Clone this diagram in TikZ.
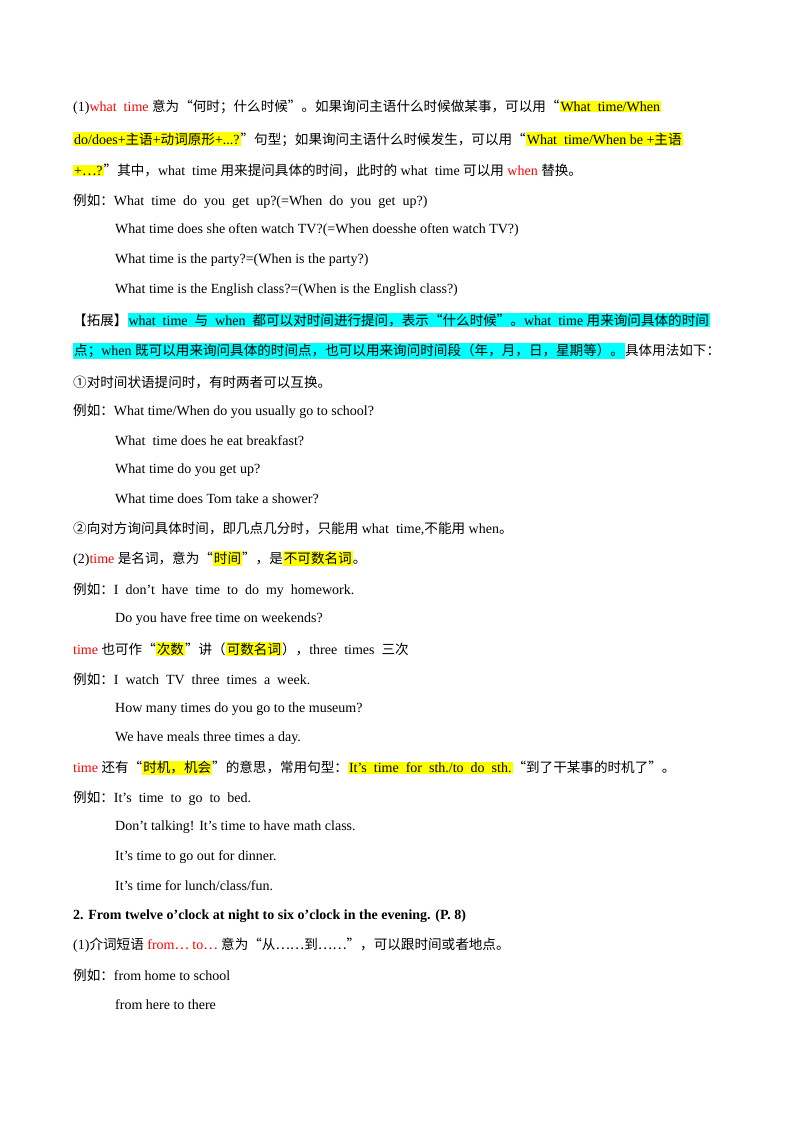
\documentclass[tikz,border=0pt]{standalone}
\usepackage{fontspec}
\setmainfont{Liberation Serif}
\newfontfamily\cjk[Scale=0.97]{Noto Sans CJK SC}
\XeTeXinterchartokenstate=1
\newXeTeXintercharclass\cjkcls
\count255="4E00
\loop \XeTeXcharclass\count255=\cjkcls \advance\count255 1 \ifnum\count255<"A000 \repeat
\count255="3000
\loop \XeTeXcharclass\count255=\cjkcls \advance\count255 1 \ifnum\count255<"3040 \repeat
\count255="FF00
\loop \XeTeXcharclass\count255=\cjkcls \advance\count255 1 \ifnum\count255<"FF60 \repeat
\XeTeXcharclass"201C=\cjkcls
\XeTeXcharclass"201D=\cjkcls
\XeTeXcharclass"2026=\cjkcls
\XeTeXcharclass"2460=\cjkcls
\XeTeXcharclass"2461=\cjkcls
\XeTeXinterchartoks 0 \cjkcls = {\begingroup\cjk}
\XeTeXinterchartoks 4095 \cjkcls = {\begingroup\cjk}
\XeTeXinterchartoks \cjkcls 0 = {\endgroup}
\XeTeXinterchartoks \cjkcls 4095 = {\endgroup}
\definecolor{hly}{RGB}{255,255,0}
\definecolor{hlc}{RGB}{0,255,255}
\newcommand\Y[1]{{\setlength\fboxsep{1pt}\colorbox{hly}{#1}}}
\newcommand\Cy[1]{{\setlength\fboxsep{1pt}\colorbox{hlc}{#1}}}
\newcommand\R[1]{\textcolor{red}{#1}}
\tikzset{ln/.style={anchor=west,inner sep=0pt,font=\fontsize{14}{16}\selectfont}}
\begin{document}
\begin{tikzpicture}[x=1pt,y=-1pt]
\useasboundingbox (0,0) rectangle (800,1132);
\fill[white] (0,0) rectangle (800,1132);
\node[ln] (l1) at (73,107) {(1)\R{what\ \ time} 意为“何时；什么时候”。如果询问主语什么时候做某事，可以用“\Y{What\ \ time/When}};
\node[ln] (l2) at (73,139) {\Y{do/does+主语+动词原形+...?}”句型；如果询问主语什么时候发生，可以用“\Y{What\ \ time/When be +主语}};
\node[ln] (l3) at (73,170) {\Y{+…?}”其中，what\ \ time 用来提问具体的时间，此时的 what\ \ time 可以用 \R{when} 替换。};
\node[ln] (l4) at (73,201) {例如：What\ \ time\ \ do\ \ you\ \ get\ \ up?(=When\ \ do\ \ you\ \ get\ \ up?)};
\node[ln] (l5) at (115,230) {What time does she often watch TV?(=When doesshe often watch TV?)};
\node[ln] (l6) at (115,260) {What time is the party?=(When is the party?)};
\node[ln] (l7) at (115,290) {What time is the English class?=(When is the English class?)};
\node[ln] (l8) at (73,320) {【拓展】\Cy{what\ \ time\ \ 与\ \ when\ \ 都可以对时间进行提问，表示“什么时候”。what\ \ time 用来询问具体的时间}};
\node[ln] (l9) at (73,351) {\Cy{点；when 既可以用来询问具体的时间点，也可以用来询问时间段（年，月，日，星期等）。}具体用法如下：};
\node[ln] (l10) at (73,382) {①对时间状语提问时，有时两者可以互换。};
\node[ln] (l11) at (73,411) {例如：What time/When do you usually go to school?};
\node[ln] (l12) at (115,441) {What\ \ time does he eat breakfast?};
\node[ln] (l13) at (115,470) {What time do you get up?};
\node[ln] (l14) at (115,499) {What time does Tom take a shower?};
\node[ln] (l15) at (73,529) {②向对方询问具体时间，即几点几分时，只能用 what\ \ time,不能用 when。};
\node[ln] (l16) at (73,559) {(2)\R{time} 是名词，意为“\Y{时间}”，是\Y{不可数名词}。};
\node[ln] (l17) at (73,590) {例如：I\ \ don’t\ \ have\ \ time\ \ to\ \ do\ \ my\ \ homework.};
\node[ln] (l18) at (115,619) {Do you have free time on weekends?};
\node[ln] (l19) at (73,649) {\R{time} 也可作“\Y{次数}”讲（\Y{可数名词}），three\ \ times\ \ 三次};
\node[ln] (l20) at (73,679) {例如：I\ \ watch\ \ TV\ \ three\ \ times\ \ a\ \ week.};
\node[ln] (l21) at (115,709) {How many times do you go to the museum?};
\node[ln] (l22) at (115,738) {We have meals three times a day.};
\node[ln] (l23) at (73,768) {\R{time} 还有“\Y{时机，机会}”的意思，常用句型：\Y{It’s\ \ time\ \ for\ \ sth./to\ \ do\ \ sth.}“到了干某事的时机了”。};
\node[ln] (l24) at (73,798) {例如：It’s\ \ time\ \ to\ \ go\ \ to\ \ bed.};
\node[ln] (l25) at (115,827) {Don’t talking! It’s time to have math class.};
\node[ln] (l26) at (115,857) {It’s time to go out for dinner.};
\node[ln] (l27) at (115,886) {It’s time for lunch/class/fun.};
\node[ln,font=\fontsize{14}{16}\selectfont\bfseries] (l28) at (73,916) {2. From twelve o’clock at night to six o’clock in the evening. (P. 8)};
\node[ln] (l29) at (73,945) {(1)介词短语 \R{from… to…} 意为“从……到……”，可以跟时间或者地点。};
\node[ln] (l30) at (73,975) {例如：from home to school};
\node[ln] (l31) at (115,1005) {from here to there};
\end{tikzpicture}
\end{document}
